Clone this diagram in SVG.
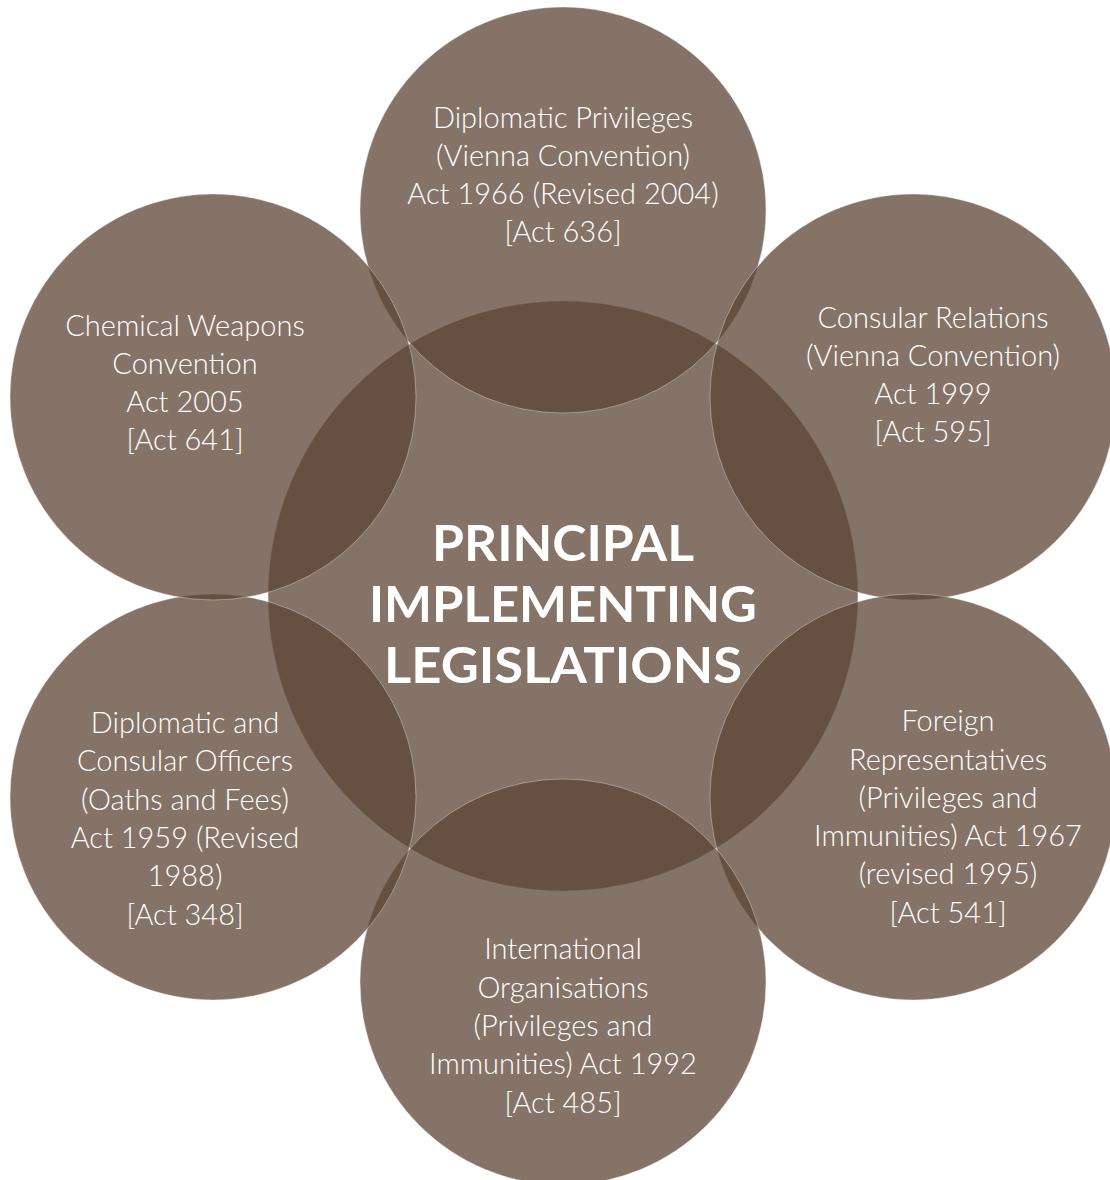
<svg xmlns="http://www.w3.org/2000/svg" width="1110" height="1180" viewBox="0 0 1110 1180">
<style>
.c{fill:rgb(92,68,52);fill-opacity:0.75;stroke:#ffffff;stroke-opacity:0.45;stroke-width:0.8}
.t{font-family:Lato,"Liberation Sans",sans-serif;font-weight:300;font-size:29px;fill:#ffffff;text-anchor:middle}
.h{font-family:Lato,"Liberation Sans",sans-serif;font-weight:700;font-size:50px;fill:#ffffff;text-anchor:middle}
</style>
<rect width="1110" height="1180" fill="#ffffff"/>
<g id="center-circle"><circle class="c" cx="563" cy="596" r="295"/></g>
<g id="node-top"><circle class="c" cx="563" cy="210" r="203"/></g>
<g id="node-top-right"><circle class="c" cx="913" cy="397" r="203"/></g>
<g id="node-bottom-right"><circle class="c" cx="913" cy="797" r="203"/></g>
<g id="node-bottom"><circle class="c" cx="563" cy="982" r="203"/></g>
<g id="node-bottom-left"><circle class="c" cx="213" cy="797" r="203"/></g>
<g id="node-top-left"><circle class="c" cx="213" cy="397" r="203"/></g>
<g id="labels">
<g id="center-label">
<text class="h" x="563" y="561" textLength="262" lengthAdjust="spacingAndGlyphs">PRINCIPAL</text>
<text class="h" x="563" y="622" textLength="388" lengthAdjust="spacingAndGlyphs">IMPLEMENTING</text>
<text class="h" x="563" y="683" textLength="358" lengthAdjust="spacingAndGlyphs">LEGISLATIONS</text>
</g>
<g id="label-top">
<text class="t" x="563" y="128">Diplomatic Privileges</text>
<text class="t" x="563" y="166">(Vienna Convention)</text>
<text class="t" x="563" y="204">Act 1966 (Revised 2004)</text>
<text class="t" x="563" y="242">[Act 636]</text>
</g>
<g id="label-top-right">
<text class="t" x="933" y="328">Consular Relations</text>
<text class="t" x="933" y="366">(Vienna Convention)</text>
<text class="t" x="933" y="404">Act 1999</text>
<text class="t" x="933" y="442">[Act 595]</text>
</g>
<g id="label-bottom-right">
<text class="t" x="948" y="731">Foreign</text>
<text class="t" x="948" y="770">Representatives</text>
<text class="t" x="948" y="808">(Privileges and</text>
<text class="t" x="948" y="846">Immunities) Act 1967</text>
<text class="t" x="948" y="884">(revised 1995)</text>
<text class="t" x="948" y="923">[Act 541]</text>
</g>
<g id="label-bottom">
<text class="t" x="563" y="959">International</text>
<text class="t" x="563" y="998">Organisations</text>
<text class="t" x="563" y="1036">(Privileges and</text>
<text class="t" x="563" y="1074">Immunities) Act 1992</text>
<text class="t" x="563" y="1113">[Act 485]</text>
</g>
<g id="label-bottom-left">
<text class="t" x="185" y="733">Diplomatic and</text>
<text class="t" x="185" y="771">Consular Officers</text>
<text class="t" x="185" y="810">(Oaths and Fees)</text>
<text class="t" x="185" y="848">Act 1959 (Revised</text>
<text class="t" x="185" y="886">1988)</text>
<text class="t" x="185" y="925">[Act 348]</text>
</g>
<g id="label-top-left">
<text class="t" x="185" y="336">Chemical Weapons</text>
<text class="t" x="185" y="374">Convention</text>
<text class="t" x="185" y="412">Act 2005</text>
<text class="t" x="185" y="450">[Act 641]</text>
</g>
</g>
</svg>
